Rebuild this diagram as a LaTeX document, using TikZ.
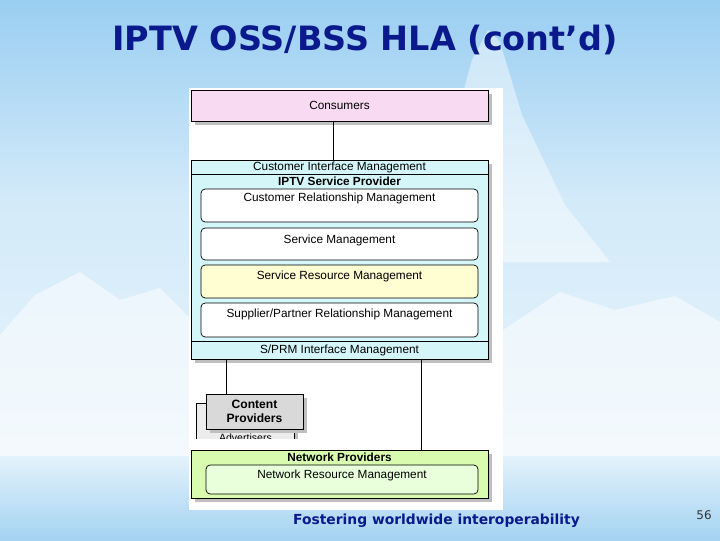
\documentclass[tikz,border=0pt]{standalone}
\usepackage{fontspec}
\setmainfont{DejaVu Sans}
\newfontfamily\slidefont{DejaVu Sans}
\newfontfamily\arialfont{Liberation Sans}
\usetikzlibrary{shadows}

\definecolor{slidenavy}{HTML}{0A1A8C}
\definecolor{skytop}{HTML}{9ACEF2}
\definecolor{skymid}{HTML}{D3EAF9}
\definecolor{skylow}{HTML}{E8F4FB}
\definecolor{seablue}{HTML}{A4D3F2}
\definecolor{consumerpink}{HTML}{F9DAF3}
\definecolor{spcyan}{HTML}{D5F6F9}
\definecolor{srmyellow}{HTML}{FFFDD2}
\definecolor{netgreen}{HTML}{D8FBB0}
\definecolor{nrmgreen}{HTML}{E9FFDB}
\definecolor{provgray}{HTML}{D9D9D9}

\begin{document}
\begin{tikzpicture}[
  x=0.025cm, y=-0.025cm,
  font=\arialfont\fontsize{8.4}{10}\selectfont,
  boxshadow/.style={drop shadow={shadow xshift=1mm, shadow yshift=-1mm, fill=gray!50, opacity=1}},
  box/.style={draw, line width=0.6pt, inner sep=0pt, boxshadow},
  strip/.style={draw, line width=0.6pt, inner sep=0pt, minimum width=7.425cm},
  func/.style={draw, rounded corners=3pt, line width=0.5pt, inner sep=0pt, minimum width=6.925cm},
  toptext/.style={anchor=north, inner sep=0pt, yshift=-3pt},
  conn/.style={line width=0.7pt}
]
\useasboundingbox (0,0) rectangle (720,540);
% slide background
\shade[top color=skytop, bottom color=skymid] (0,0) rectangle (720,200);
\shade[top color=skymid, bottom color=skylow] (0,200) rectangle (720,456);
\fill[white, opacity=0.45] (420,262) -- (450,140) -- (472,60) -- (488,30) -- (500,42) -- (522,115) -- (565,205) -- (610,262) -- cycle;
\fill[white, opacity=0.5] (0,335) -- (35,295) -- (80,272) -- (120,300) -- (160,288) -- (190,318) -- (190,456) -- (0,456) -- cycle;
\fill[white, opacity=0.5] (503,330) -- (560,292) -- (615,310) -- (675,296) -- (720,322) -- (720,456) -- (503,456) -- cycle;
\shade[top color=white!70!seablue, bottom color=seablue] (0,456) rectangle (720,540);
\fill[white] (189,88) rectangle (503,510);

% title and footer
\node[font=\slidefont\bfseries\fontsize{23.8}{28}\selectfont, text=slidenavy] (title) at (365,40) {IPTV OSS/BSS HLA (cont’d)};
\node[font=\slidefont\bfseries\fontsize{9.85}{11}\selectfont, text=slidenavy] (foot) at (436.5,521) {Fostering worldwide interoperability};
\node[font=\slidefont\fontsize{8.5}{10}\selectfont, text=black!80] (pagenum) at (704,515) {56};

% consumers
\node[box, fill=consumerpink, minimum width=7.425cm, minimum height=0.775cm] (cons) at (339.5,105.5) {Consumers};

% IPTV service provider
\node[box, fill=spcyan, minimum width=7.425cm, minimum height=4.975cm] (isp) at (339.5,259.5) {};
\node[strip, minimum height=0.35cm] (cim) at (339.5,167) {Customer Interface Management};
\node[strip, minimum height=0.45cm] (sprmif) at (339.5,350) {S/PRM Interface Management};
\node[font=\arialfont\bfseries\fontsize{8.4}{10}\selectfont, inner sep=0pt] (isptitle) at (339.5,181.5) {IPTV Service Provider};
\node[func, fill=white, minimum height=0.825cm, label={[toptext]north:Customer Relationship Management}] (crm) at (339.5,205.5) {};
\node[func, fill=white, minimum height=0.8cm, label={[toptext, yshift=-2pt]north:Service Management}] (sm) at (339.5,244) {};
\node[func, fill=srmyellow, minimum height=0.825cm, label={[toptext, yshift=-1.5pt]north:Service Resource Management}] (srm) at (339.5,281.5) {};
\node[func, fill=white, minimum height=0.85cm, label={[toptext, yshift=-1pt]north:Supplier/Partner Relationship Management}] (sprm) at (339.5,320) {};

% content providers and advertisers
\begin{scope}
\clip (190,398) rectangle (312,438);
\node[box, fill=gray!15, minimum width=2.45cm, minimum height=0.975cm, anchor=north west,
  label={[anchor=south, inner sep=1pt, font=\arialfont\fontsize{7.5}{8}\selectfont]south:Advertisers}] (adv) at (196,403) {};
\end{scope}
\node[box, fill=provgray, minimum width=2.425cm, minimum height=0.875cm, align=center,
  font=\arialfont\bfseries\fontsize{8.6}{9.6}\selectfont] (cont) at (254.5,411.5) {Content\\Providers};

% network providers
\node[box, fill=netgreen, minimum width=7.425cm, minimum height=1.2cm,
  label={[toptext, yshift=0.5pt, font=\arialfont\bfseries\fontsize{8.4}{10}\selectfont]north:Network Providers}] (net) at (339.5,474) {};
\node[func, fill=nrmgreen, minimum width=6.8cm, minimum height=0.725cm, label={[toptext, yshift=-0.5pt]north:Network Resource Management}] (nrm) at (342,479.5) {};

% connectors
\coordinate (cpx) at (226,0);
\coordinate (npx) at (421,0);
\draw[conn] ([xshift=-1.625mm]cons.south) -- ([xshift=-1.625mm]cim.north);
\draw[conn] (isp.south -| cpx) -- (cont.north -| cpx);
\draw[conn] (isp.south -| npx) -- (net.north -| npx);
\end{tikzpicture}
\end{document}
